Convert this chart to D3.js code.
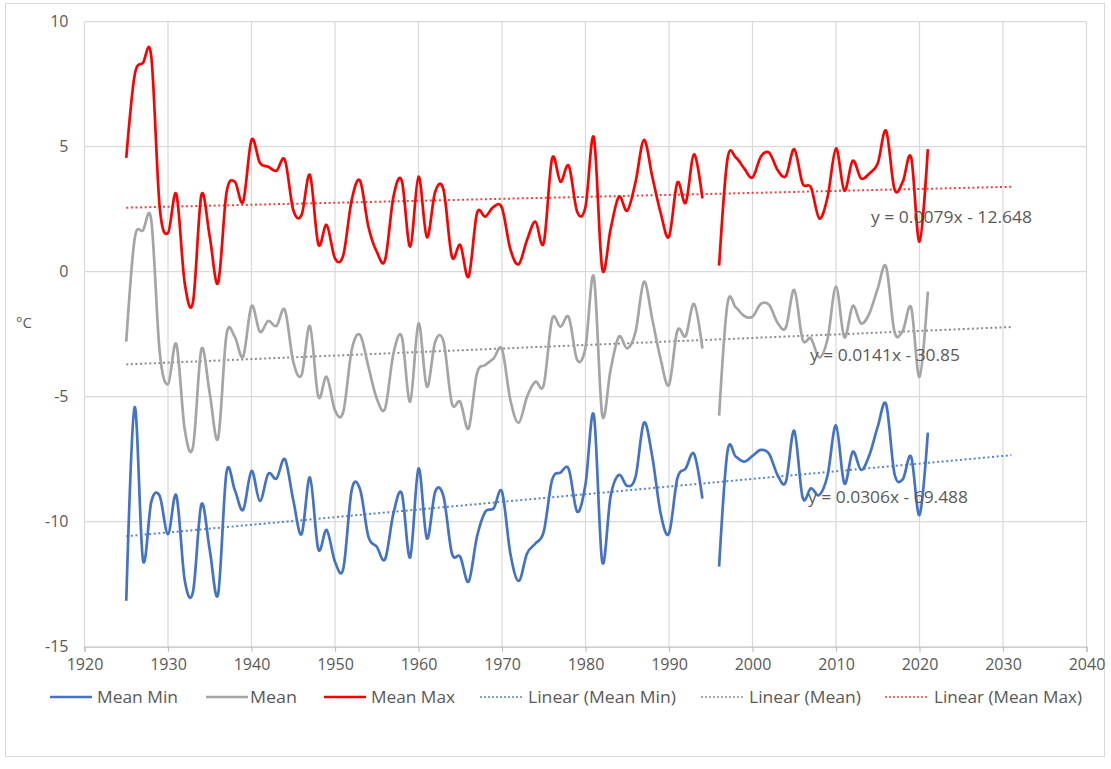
<!DOCTYPE html>
<html>
<head>
<meta charset="utf-8">
<script src="https://cdn.jsdelivr.net/npm/d3@7"></script>
<style>
  html, body { margin: 0; padding: 0; background: #fff; }
  svg { display: block; }
  text { font-family: "Open Sans", "Liberation Sans", sans-serif; fill: #595959; }
</style>
</head>
<body>
<svg id="chart" width="1111" height="769"></svg>
<script>
const years = d3.range(1925, 2022);

const meanMin = [
 -13.16, -5.43, -11.53, -9.2, -8.97, -10.5, -8.95, -12.33, -12.8, -9.3,
 -11.13, -12.9, -8.04, -8.73, -9.53, -7.97, -9.17, -8.09, -8.27, -7.5,
 -9.13, -10.5, -8.23, -11.1, -10.33, -11.6, -11.87, -8.73, -8.7, -10.6,
 -11.0, -11.5, -9.67, -8.87, -11.43, -7.87, -10.67, -8.8, -9.0, -11.27,
 -11.4, -12.4, -10.6, -9.6, -9.47, -8.8, -11.27, -12.37, -11.27, -10.87,
 -10.4, -8.33, -8.04, -7.9, -9.6, -8.5, -5.73, -11.6, -9.0, -8.13,
 -8.57, -8.2, -6.04, -7.4, -9.67, -10.47, -8.27, -7.87, -7.29, -9.07,
 null, -11.8, -7.2, -7.4, -7.6, -7.37, -7.13, -7.29, -8.13, -8.4,
 -6.36, -9.03, -8.67, -8.93, -8.13, -6.15, -8.47, -7.2, -7.93, -7.33,
 -6.2, -5.3, -8.07, -8.3, -7.4, -9.73, -6.44
];

const mean = [
 -2.8, 1.3, 1.65, 2.05, -3.2, -4.5, -2.9, -6.3, -7.0, -3.1,
 -4.87, -6.67, -2.53, -2.6, -3.4, -1.37, -2.4, -1.97, -2.17, -1.53,
 -3.6, -4.13, -2.17, -5.0, -4.2, -5.55, -5.6, -3.13, -2.53, -3.8,
 -5.07, -5.47, -3.27, -2.6, -5.2, -2.07, -4.6, -2.8, -2.8, -5.27,
 -5.2, -6.27, -4.07, -3.73, -3.47, -3.1, -5.13, -6.04, -5.0, -4.4,
 -4.53, -1.9, -2.2, -1.83, -3.53, -3.03, -0.2, -5.73, -3.93, -2.6,
 -3.07, -2.4, -0.4, -1.9, -3.5, -4.53, -2.36, -2.57, -1.29, -3.07,
 null, -5.76, -1.29, -1.43, -1.77, -1.8, -1.29, -1.33, -2.04, -2.23,
 -0.73, -2.71, -2.67, -3.43, -2.67, -0.6, -2.63, -1.37, -2.07, -1.67,
 -0.67, 0.2, -2.4, -2.36, -1.43, -4.2, -0.8
];

const meanMax = [
 4.55, 7.85, 8.35, 8.6, 2.6, 1.55, 3.1, -0.45, -1.2, 3.07,
 1.4, -0.45, 3.15, 3.6, 2.8, 5.27, 4.36, 4.2, 4.04, 4.47,
 2.47, 2.27, 3.87, 1.1, 1.87, 0.53, 0.67, 2.87, 3.64, 1.8,
 0.8, 0.47, 3.0, 3.64, 1.0, 3.8, 1.38, 3.2, 3.27, 0.6,
 1.07, -0.2, 2.33, 2.2, 2.6, 2.55, 0.9, 0.3, 1.27, 2.0,
 1.15, 4.53, 3.6, 4.23, 2.4, 2.6, 5.37, 0.12, 1.7, 3.0,
 2.44, 3.6, 5.27, 3.8, 2.35, 1.4, 3.56, 2.76, 4.7, 2.93,
 null, 0.24, 4.5, 4.57, 4.13, 3.77, 4.6, 4.76, 4.07, 3.83,
 4.9, 3.53, 3.37, 2.13, 3.0, 4.93, 3.24, 4.44, 3.73, 3.93,
 4.33, 5.64, 3.3, 3.6, 4.57, 1.2, 4.9
];

// Trendline coefficients as shown on the chart labels: y = slope*x + intercept
const trendSlope     = [0.0306, 0.0141, 0.0079];
const trendIntercept = [-69.488, -30.85, -12.648];
const trendLabels    = ["y = 0.0306x - 69.488", "y = 0.0141x - 30.85", "y = 0.0079x - 12.648"];
const trendRange     = [1925, 2031];

const legendNames  = ["Mean Min", "Mean", "Mean Max", "Linear (Mean Min)", "Linear (Mean)", "Linear (Mean Max)"];
const xTicks = d3.range(1920, 2041, 10);
const yTicks = [10, 5, 0, -5, -10, -15];

const colors      = ["#4472C4", "#A5A5A5", "#FF0000"];
const trendColors = ["#5B82CC", "#8C8C8C", "#F0413F"];

const svg = d3.select("#chart");

// outer border
svg.append("rect").attr("x", 5.5).attr("y", 3.5).attr("width", 1099).attr("height", 753)
  .attr("fill", "#fff").attr("stroke", "#d9d9d9").attr("stroke-width", 1);

const x = d3.scaleLinear().domain([1920, 2040]).range([84.5, 1086.5]);
const y = d3.scaleLinear().domain([-15, 10]).range([646.7, 21.7]);

// gridlines
const grid = svg.append("g");
grid.selectAll("line.h").data(yTicks.filter(d => d !== -15)).join("line")
  .attr("x1", x(1920)).attr("x2", x(2040))
  .attr("y1", d => y(d)).attr("y2", d => y(d))
  .attr("stroke", "#d9d9d9").attr("stroke-width", 1.2);
grid.selectAll("line.v").data(xTicks).join("line")
  .attr("x1", d => x(d)).attr("x2", d => x(d))
  .attr("y1", y(10)).attr("y2", y(-15))
  .attr("stroke", "#d9d9d9").attr("stroke-width", 1.2);

// x axis at bottom
const xAxis = d3.axisBottom(x).tickValues(xTicks).tickFormat(d => String(d)).tickSize(5).tickPadding(7);
const gx = svg.append("g").attr("transform", `translate(0,${y(-15)})`).call(xAxis);
gx.select(".domain").attr("stroke", "#bfbfbf").attr("stroke-width", 1.2);
gx.selectAll(".tick line").attr("stroke", "#bfbfbf").attr("stroke-width", 1.2);
gx.selectAll(".tick text").attr("font-size", 16).attr("fill", "#595959")
  .style("font-family", "'Open Sans', sans-serif");

// y axis labels (plain hyphen for negatives, as in the original)
const yAxis = d3.axisLeft(y).tickValues(yTicks).tickFormat(d => String(d)).tickSize(0).tickPadding(16);
const gy = svg.append("g").attr("transform", `translate(${x(1920)},0)`).call(yAxis);
gy.select(".domain").remove();
gy.selectAll(".tick text").attr("font-size", 16).attr("fill", "#595959")
  .style("font-family", "'Open Sans', sans-serif");

// axis title
svg.append("text").attr("x", 16).attr("y", 328).attr("font-size", 15).text("°C");

// trendlines
const trendG = svg.append("g");
[0, 1, 2].forEach(i => {
  const pts = trendRange.map(t => [t, trendSlope[i] * t + trendIntercept[i]]);
  trendG.append("line")
    .attr("x1", x(pts[0][0])).attr("y1", y(pts[0][1]))
    .attr("x2", x(pts[1][0])).attr("y2", y(pts[1][1]))
    .attr("stroke", trendColors[i]).attr("stroke-width", 2)
    .attr("stroke-dasharray", "2,2.6");
});

// series
const allSeries = [meanMin, mean, meanMax];
const line = d3.line()
  .defined(d => d[1] !== null)
  .x(d => x(d[0])).y(d => y(d[1]))
  .curve(d3.curveCardinal.tension(0));
allSeries.forEach((vals, i) => {
  svg.append("path")
    .datum(years.map((yr, j) => [yr, vals[j]]))
    .attr("d", line)
    .attr("fill", "none")
    .attr("stroke", colors[i])
    .attr("stroke-width", 2.7)
    .attr("stroke-linejoin", "round");
});

// trend equation labels
const labelPos = [[808, 503], [810, 361], [871, 223]];
const labelLen = [160, 150, 161];
[0, 1, 2].forEach(i => {
  svg.append("text").attr("x", labelPos[i][0]).attr("y", labelPos[i][1])
    .attr("font-size", 16).attr("fill", "#404040")
    .attr("textLength", labelLen[i]).attr("lengthAdjust", "spacingAndGlyphs")
    .text(trendLabels[i]);
});

// legend
const legendY = 697;
const legendItems = [
  {sx: 50, tx: 97, w: 81, color: colors[0], dash: null},
  {sx: 206, tx: 250, w: 47, color: colors[1], dash: null},
  {sx: 324, tx: 371, w: 84, color: colors[2], dash: null},
  {sx: 480, tx: 528, w: 148, color: trendColors[0], dash: "2,2"},
  {sx: 701, tx: 749, w: 112, color: trendColors[1], dash: "2,2"},
  {sx: 885, tx: 934, w: 148, color: trendColors[2], dash: "2,2"}
];
const lg = svg.append("g");
legendItems.forEach((it, i) => {
  lg.append("line").attr("x1", it.sx).attr("x2", it.sx + 42)
    .attr("y1", legendY).attr("y2", legendY)
    .attr("stroke", it.color).attr("stroke-width", it.dash ? 1.6 : 2.6)
    .attr("stroke-dasharray", it.dash);
  lg.append("text").attr("x", it.tx).attr("y", legendY + 5.5)
    .attr("font-size", 16).attr("fill", "#404040")
    .attr("textLength", it.w).attr("lengthAdjust", "spacingAndGlyphs")
    .text(legendNames[i]);
});
</script>
</body>
</html>
